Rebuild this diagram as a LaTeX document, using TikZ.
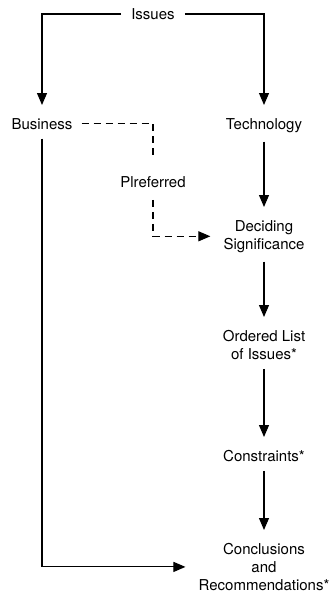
\documentclass[tikz,border=0pt]{standalone}
\usepackage{fontspec}
\setmainfont{TeX Gyre Heros}
\usetikzlibrary{arrows.meta}

\begin{document}
\begin{tikzpicture}[x=1pt,y=-1pt,
        lbl/.style={font=\fontsize{15}{18}\selectfont, inner sep=9pt, align=center},
        arr/.style={-{Triangle[length=12pt,width=10pt]}, line width=1.1pt, shorten >=4pt},
        pref/.style={arr, dash pattern=on 7pt off 5pt}]
        \useasboundingbox (0,0) rectangle (329,594);

        \node[lbl, inner xsep=10pt] (issues) at (153,14) {Issues};
        \node[lbl, anchor=north] (business) at (42,109) {Business};
        \node[lbl, anchor=north] (tech) at (264,109) {Technology};
        \node[lbl, inner sep=12pt] (plref) at (153,182) {Plreferred};
        \node[lbl, anchor=north] (decide) at (264,211) {Deciding\\Significance};
        \node[lbl, anchor=north] (ordered) at (264,321) {Ordered List\\of Issues*};
        \node[lbl, anchor=north] (constr) at (264,441) {Constraints*};
        \node[lbl, anchor=north] (concl) at (264,534) {Conclusions\\and\\Recommendations*};

        \draw[arr] (issues.west) -| (business.north);
        \draw[arr] (issues.east) -| (tech.north);
        \draw[pref, -] (business.east) -| (plref.north);
        \draw[pref] (plref.south) |- (decide.west);
        \draw[arr] (tech) -- (decide);
        \draw[arr] (decide) -- (ordered);
        \draw[arr] (ordered) -- (constr);
        \draw[arr] (constr) -- (concl);
        \draw[arr] (business.south) |- (concl.west);
    \end{tikzpicture}
\end{document}
